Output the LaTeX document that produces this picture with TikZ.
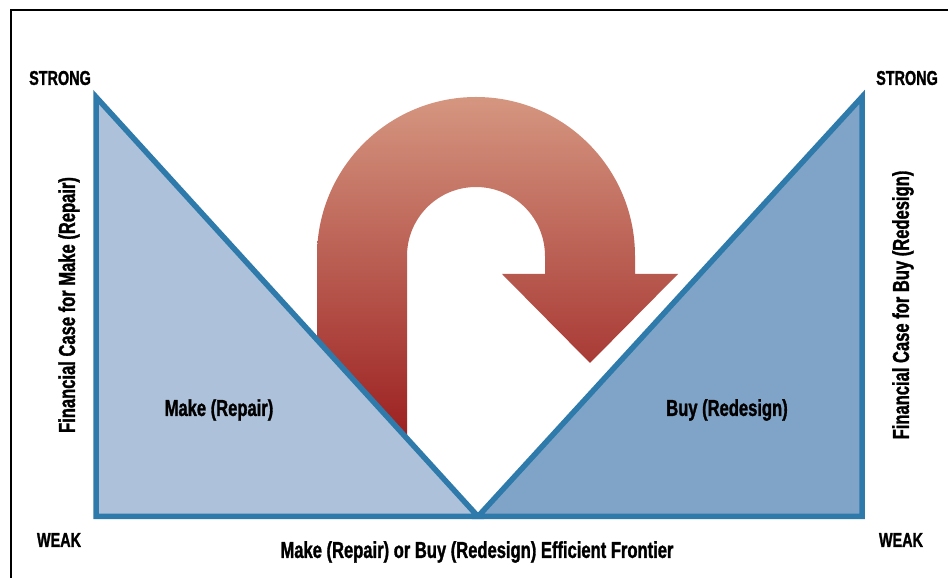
\documentclass[tikz,border=0pt]{standalone}
\usepackage{fontspec}
\setmainfont{Liberation Sans}[FakeStretch=0.72, BoldFeatures={FakeBold=1.3}]
\begin{document}
\begin{tikzpicture}[x=1pt,y=1pt,
  lab/.style={font=\bfseries\fontsize{23}{25}\selectfont, inner sep=0pt},
  endlab/.style={font=\bfseries\fontsize{20}{22}\selectfont, inner sep=0pt},
  tri/.style={draw=edgeblue, line width=5.5pt, line join=miter, miter limit=20}]
\definecolor{edgeblue}{RGB}{46,122,171}
\definecolor{lightfill}{RGB}{173,194,218}
\definecolor{darkfill}{RGB}{128,164,200}
\definecolor{arrtop}{RGB}{213,150,128}
\definecolor{arrbot}{RGB}{155,30,30}
\useasboundingbox (0,0) rectangle (948,578);
% frame
\draw[line width=2pt] (949,567.5) -- (11,567.5) -- (11,-1);
% U-turn arrow
\shade[top color=arrtop, bottom color=arrbot]
  (317,133) -- (317,322) arc[start angle=180, end angle=0, radius=159pt]
  -- (635,304) -- (678,304) -- (590,215) -- (502,304) -- (545,304) -- (545,322)
  arc[start angle=0, end angle=180, radius=69pt] -- (407,133) -- cycle;
% triangles
\coordinate (lt) at (96,481);
\coordinate (lb) at (96,61.5);
\coordinate (mid) at (478,61.5);
\coordinate (rt) at (862,481);
\coordinate (rb) at (862,61.5);
\filldraw[tri, fill=lightfill] (lt) -- (lb) -- (mid) -- cycle;
\filldraw[tri, fill=darkfill] (mid) -- (rt) -- (rb) -- cycle;
% labels
\node[endlab] (s1) at (60,500) {STRONG};
\node[endlab] (s2) at (907,500) {STRONG};
\node[endlab] (w1) at (59,38) {WEAK};
\node[endlab] (w2) at (901,38) {WEAK};
\node[lab] (mk) at (219,168) {Make (Repair)};
\node[lab] (by) at (727,168) {Buy (Redesign)};
\node[lab] (ff) at (477,26) {Make (Repair) or Buy (Redesign) Efficient Frontier};
\node[lab, rotate=90] (fl) at (69,273) {Financial Case for Make (Repair)};
\node[lab, rotate=90] (fr) at (903,273) {Financial Case for Buy (Redesign)};
\end{tikzpicture}
\end{document}
